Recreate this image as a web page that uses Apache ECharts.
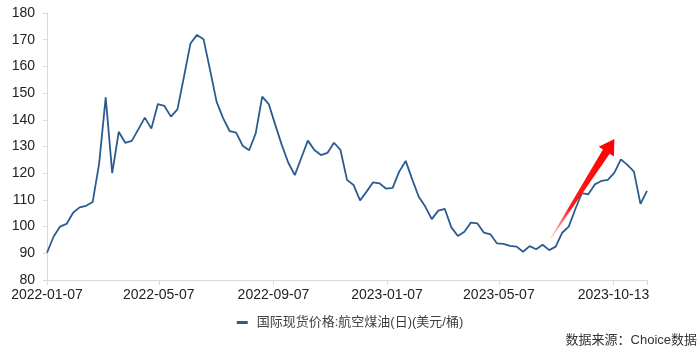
<!DOCTYPE html>
<html>
<head>
<meta charset="utf-8">
<script src="https://cdn.jsdelivr.net/npm/echarts@6/dist/echarts.min.js"></script>
<style>
  html, body {margin: 0; padding: 0; background: #fff;}
  #chart {width: 700px; height: 352px;}
</style>
</head>
<body>
<div id="chart"></div>
<script>
// weekly (Friday) prices, 2022-01-07 .. 2023-10-13
const startDate = '2022-01-07';
const prices = [
  90.2, 96.2, 100.0, 101.0, 105.2, 107.2, 107.8, 109.2, 123.7, 148.4,
  120.0, 135.5, 131.4, 132.1, 136.4, 140.8, 136.7, 145.9, 145.2, 141.2,
  143.9, 156.1, 168.6, 171.8, 170.2, 158.7, 146.8, 140.6, 135.8, 135.2,
  130.3, 128.6, 134.9, 148.7, 145.9, 138.1, 130.6, 123.9, 119.3, 125.8,
  132.2, 128.7, 126.8, 127.6, 131.4, 128.7, 117.5, 115.6, 109.8, 113.1,
  116.6, 116.2, 114.2, 114.5, 120.6, 124.6, 117.7, 111.2, 107.5, 102.8,
  106.0, 106.6, 99.7, 96.5, 98.1, 101.5, 101.2, 97.7, 97.1, 93.7,
  93.5, 92.8, 92.5, 90.6, 92.7, 91.5, 93.2, 91.2, 92.5, 97.7,
  100.0, 106.5, 112.5, 112.1, 115.8, 117.1, 117.5, 120.2, 125.2, 123.1,
  120.6, 108.5, 113.4
];
// x-axis tick positions and the text printed under them
const tickDates = ['2022-01-07', '2022-05-07', '2022-09-07', '2023-01-07', '2023-05-07', '2023-09-07', '2023-10-13'];
const tickLabels = ['2022-01-07', '2022-05-07', '2022-09-07', '2023-01-07', '2023-05-07', '2023-10-13', ''];
const yTicks = [80, 90, 100, 110, 120, 130, 140, 150, 160, 170, 180];
const seriesName = '国际现货价格:航空煤油(日)(美元/桶)';
const sourceText = '数据来源：Choice数据';
// red arrow annotation, in data coordinates
const arrowFrom = ['2023-07-02', 95.7];
const arrowTo = ['2023-09-08', 132.8];

const DAY = 86400000;
const toTime = (s) => {
  const [y, m, d] = s.split('-').map(Number);
  return Date.UTC(y, m - 1, d);
};
// days since the first date
const toDay = (s) => Math.round((toTime(s) - toTime(startDate)) / DAY);

const weekDays = prices.map((_, i) => i * 7);
const tickDays = tickDates.map(toDay);

const font = "'Liberation Sans', 'Noto Sans CJK SC', sans-serif";
const lineColor = '#2b5b8f';
const axisColor = '#d9d9d9';

const myChart = echarts.init(document.getElementById('chart'));
myChart.setOption({
  animation: false,
  backgroundColor: '#fff',
  grid: {left: 47, right: 53, top: 13, bottom: 72, containLabel: false},
  legend: {
    bottom: 18,
    left: 'center',
    icon: 'rect',
    itemWidth: 11,
    itemHeight: 3,
    textStyle: {fontFamily: font, fontSize: 13, color: '#404040', padding: [0, 0, 0, 4]},
    data: [seriesName]
  },
  xAxis: {
    type: 'value',
    min: tickDays[0],
    max: tickDays[tickDays.length - 1],
    splitLine: {show: false},
    axisLine: {show: true, lineStyle: {color: axisColor, width: 1}},
    axisTick: {show: true, length: 5, lineStyle: {color: axisColor}, customValues: tickDays},
    axisLabel: {
      customValues: tickDays.slice(0, tickDays.length - 1),
      fontFamily: font,
      fontSize: 14,
      color: '#222',
      margin: 8,
      formatter(val) {
        const i = tickDays.indexOf(val);
        return i >= 0 ? tickLabels[i] : '';
      }
    }
  },
  yAxis: {
    type: 'value',
    min: yTicks[0],
    max: yTicks[yTicks.length - 1],
    interval: 10,
    splitLine: {show: false},
    axisLine: {show: true, lineStyle: {color: axisColor, width: 1}},
    axisTick: {show: true, length: 4, lineStyle: {color: axisColor}},
    axisLabel: {fontFamily: font, fontSize: 14, color: '#222', margin: 12}
  },
  series: [{
    name: seriesName,
    type: 'line',
    symbol: 'none',
    smooth: false,
    lineStyle: {color: lineColor, width: 1.8},
    itemStyle: {color: lineColor},
    data: weekDays.map((d, i) => [d, prices[i]])
  }]
});

// tapered arrow, anchored to data coordinates
const p0 = myChart.convertToPixel({gridIndex: 0}, [toDay(arrowFrom[0]), arrowFrom[1]]);
const p1 = myChart.convertToPixel({gridIndex: 0}, [toDay(arrowTo[0]), arrowTo[1]]);
const dx = p1[0] - p0[0], dy = p1[1] - p0[1];
const len = Math.sqrt(dx * dx + dy * dy);
const ux = dx / len, uy = dy / len;
const nx = -uy, ny = ux;
const headLen = 15, headHalf = 9, shaftHalf = 4, tailHalf = 0.4;
const bx = p1[0] - ux * headLen, by = p1[1] - uy * headLen;
const pt = (x, y, w) => [x + nx * w, y + ny * w];
const arrowPoints = [
  pt(p0[0], p0[1], tailHalf),
  pt(bx, by, shaftHalf),
  pt(bx, by, headHalf),
  p1,
  pt(bx, by, -headHalf),
  pt(bx, by, -shaftHalf),
  pt(p0[0], p0[1], -tailHalf)
];

myChart.setOption({
  graphic: [
    {
      type: 'polygon',
      shape: {points: arrowPoints},
      style: {
        fill: new echarts.graphic.LinearGradient(p0[0], p0[1], p1[0], p1[1], [
          {offset: 0, color: 'rgba(255,60,60,0.25)'},
          {offset: 0.3, color: '#ff1a1a'},
          {offset: 1, color: '#ff0000'}
        ], true)
      },
      z: 100
    },
    {
      type: 'text',
      right: 3,
      top: 334,
      style: {text: sourceText, fontFamily: font, fontSize: 13, fill: '#333'}
    }
  ]
});
</script>
</body>
</html>
